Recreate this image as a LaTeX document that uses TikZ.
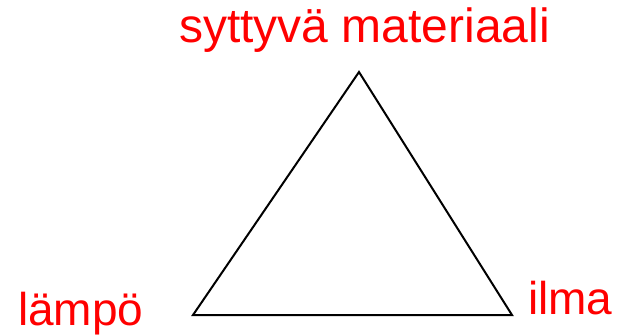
\documentclass[tikz,border=0pt]{standalone}
\usepackage{fontspec}
\setmainfont{Liberation Sans}
\usepackage{tikz}

\tikzset{
  label text/.style={text=red, inner sep=0pt, anchor=base west, font=\fontsize{46}{50}\selectfont},
  side/.style={line width=2pt, line join=miter}
}

\begin{document}
\begin{tikzpicture}[x=1pt,y=-1pt]
\useasboundingbox (0,0) rectangle (619,335);
\coordinate (T) at (359,72);
\coordinate (L) at (193,315);
\coordinate (R) at (512,315);

\node[label text, font=\fontsize{48}{52}\selectfont] (fuel) at (179,42) {syttyvä materiaali};
\node[label text] (heat) at (18,325) {lämpö};
\node[label text] (air) at (528,314) {ilma};

\draw[side] (T) -- (L) -- (R) -- cycle;
\end{tikzpicture}
\end{document}
